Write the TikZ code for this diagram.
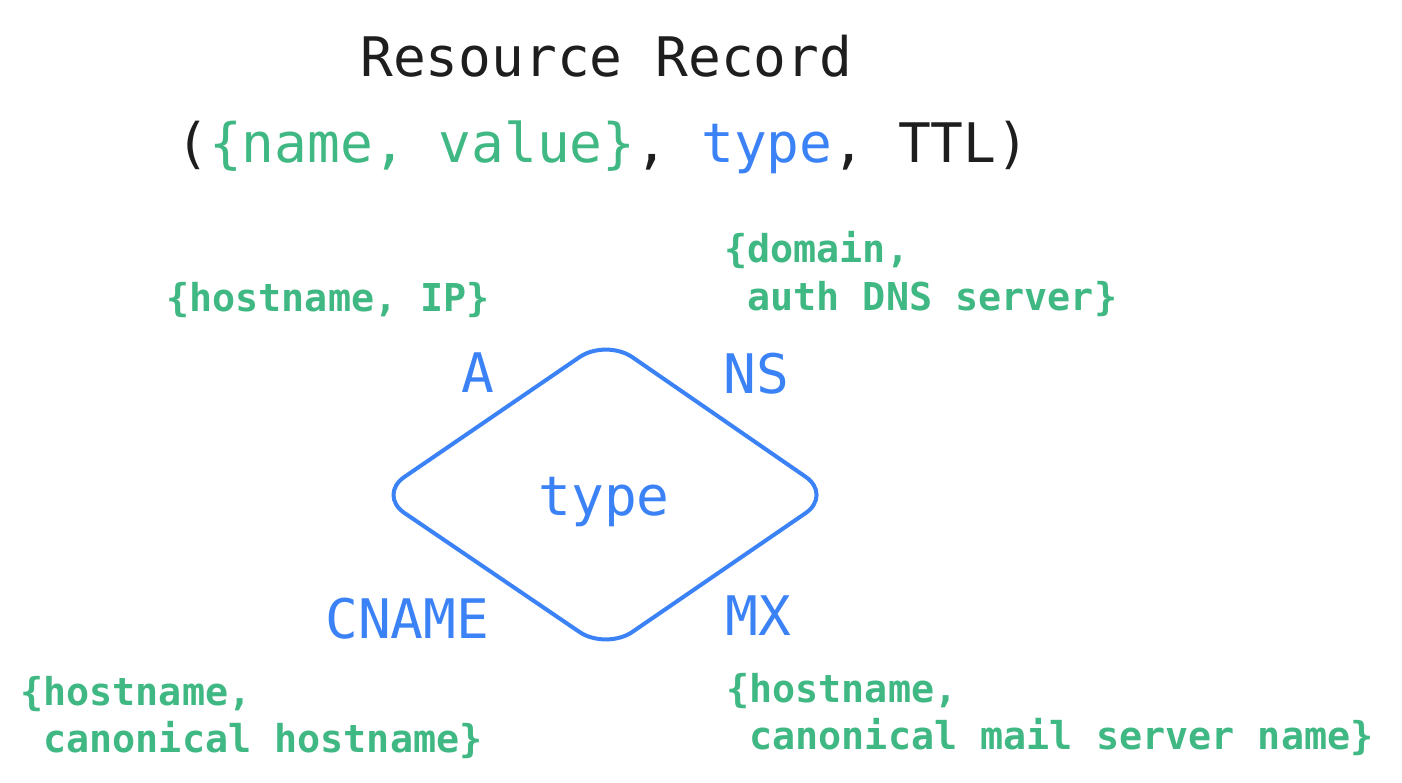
\documentclass[tikz,border=0pt]{standalone}
\usepackage{fontspec}
\setmonofont{DejaVu Sans Mono}
\definecolor{ink}{HTML}{1E1E1E}
\definecolor{blu}{HTML}{3B82F6}
\definecolor{grn}{HTML}{40B883}
\tikzset{
  big/.style={font=\ttfamily\fontsize{54.5}{60}\selectfont, inner sep=0pt, anchor=base west},
  lbl/.style={font=\ttfamily\fontsize{54.5}{60}\selectfont, text=blu, inner sep=0pt, anchor=base west},
  note/.style={font=\ttfamily\bfseries\fontsize{38.4}{48}\selectfont, text=grn, inner sep=0pt, anchor=base west, align=left},
  rhomb/.style={draw=blu, line width=4pt, rounded corners=32pt, line join=round},
}
\begin{document}
\begin{tikzpicture}[x=1pt,y=-1pt]
\useasboundingbox[fill=white] (0,0) rectangle (1402,783);
\node[big, text=ink] (title) at (360,77) {Resource Record};
\node[big, text=ink] (tuple) at (176,163) {(\textcolor{grn}{\{name, value\}}, \textcolor{blu}{type}, TTL)};
\coordinate (dL) at (378,495);
\coordinate (dT) at (606,339);
\coordinate (dR) at (832,495);
\coordinate (dB) at (606,650);
\draw[rhomb] (dL) -- (dT) -- (dR) -- (dB) -- cycle;
\node[lbl, anchor=base] (type) at (604,515) {type};
\node[lbl] (A) at (461,392) {A};
\node[lbl] (NS) at (723,393) {NS};
\node[lbl] (CNAME) at (325,638) {CNAME};
\node[lbl] (MX) at (725,635) {MX};
\node[note] (nA) at (166,312) {\{hostname, IP\}};
\node[note] (nNS1) at (724,263) {\{domain,};
\node[note] (nNS2) at (724,311) {\ auth DNS server\}};
\node[note] (nC1) at (20,705) {\{hostname,};
\node[note] (nC2) at (20,752) {\ canonical hostname\}};
\node[note] (nM1) at (726,702) {\{hostname,};
\node[note] (nM2) at (726,749) {\ canonical mail server name\}};
\end{tikzpicture}
\end{document}
